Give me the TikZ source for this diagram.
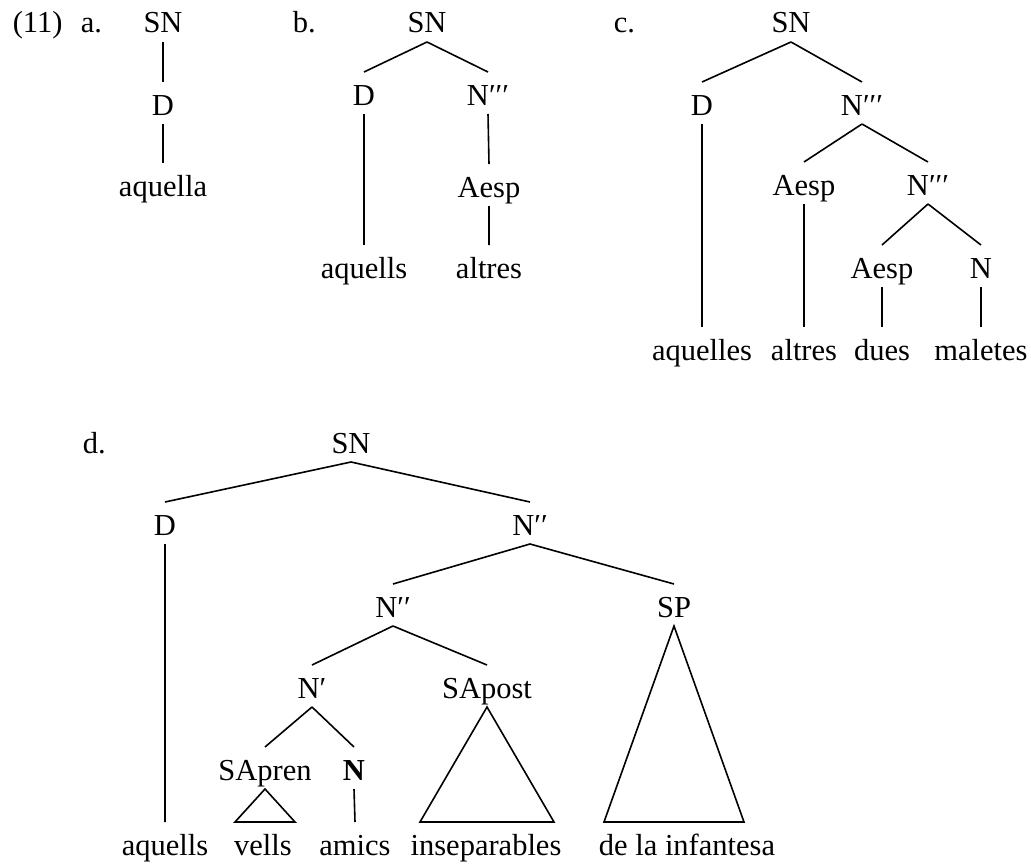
\documentclass[tikz,border=0pt]{standalone}
\usepackage{fontspec}
\setmainfont{Liberation Serif}
\usepackage{tikz}
\usetikzlibrary{calc}

\begin{document}
\begin{tikzpicture}[x=1pt, y=-1pt, line width=1.6pt, every node/.style={anchor=base, inner sep=0pt, outer ysep=9pt, text height=24pt, text depth=0pt, font=\fontsize{30.5}{36}\selectfont}]
\useasboundingbox (0,0) rectangle (1031,867);
% example numbers
\node[anchor=base west] (ex) at (12,33) {(11)};
\node[anchor=base west] (la) at (80,33) {a.};
\node[anchor=base west] (lb) at (292,33) {b.};
\node[anchor=base west] (lc) at (613,33) {c.};
\node[anchor=base west] (ld) at (82,453) {d.};

% a.
\node (sna) at (163,33) {SN};
\node (da) at (163,115) {D};
\node (aquella) at (163,196) {aquella};
\draw (sna.south) -- (da.north) (da.south) -- (aquella.north);

% b.
\node (snb) at (427,33) {SN};
\node (db) at (364,105) {D};
\node (nb) at (488,105) {N′′′};
\node (aespb) at (489,197) {Aesp};
\node (aquellsb) at (364,278) {aquells};
\node (altresb) at (489,278) {altres};
\draw (snb.south) -- (db.north) (snb.south) -- (nb.north);
\draw (db.south) -- (aquellsb.north);
\draw (nb.south) -- (aespb.north) (aespb.south) -- (altresb.north);

% c.
\node (snc) at (791,33) {SN};
\node (dc) at (702,115) {D};
\node (nc1) at (862,115) {N′′′};
\node (aespc1) at (804,195) {Aesp};
\node (nc2) at (928,195) {N′′′};
\node (aespc2) at (882,278) {Aesp};
\node (nc) at (981,278) {N};
\node (aquelles) at (702,360) {aquelles};
\node (altresc) at (804,360) {altres};
\node (dues) at (882,360) {dues};
\node (maletes) at (981,360) {maletes};
\draw (snc.south) -- (dc.north) (snc.south) -- (nc1.north);
\draw (nc1.south) -- (aespc1.north) (nc1.south) -- (nc2.north);
\draw (nc2.south) -- (aespc2.north) (nc2.south) -- (nc.north);
\draw (dc.south) -- (aquelles.north) (aespc1.south) -- (altresc.north);
\draw (aespc2.south) -- (dues.north) (nc.south) -- (maletes.north);

% d.
\node (snd) at (351,453) {SN};
\node (dd) at (165,535) {D};
\node (nd1) at (530,535) {N′′};
\node (nd2) at (393,617) {N′′};
\node (sp) at (674,617) {SP};
\node (nbar) at (312,698) {N′};
\node (sapost) at (487,698) {SApost};
\node (sapren) at (265,780) {SApren};
\node (nhead) at (354,780) {\textbf{N}};
\node (aquellsd) at (165,855) {aquells};
\node (vells) at (263,855) {vells};
\node (amics) at (355,855) {amics};
\node (insep) at (486,855) {inseparables};
\node (infantesa) at (687,855) {de la infantesa};
\draw (snd.south) -- (dd.north) (snd.south) -- (nd1.north);
\draw (nd1.south) -- (nd2.north) (nd1.south) -- (sp.north);
\draw (nd2.south) -- (nbar.north) (nd2.south) -- (sapost.north);
\draw (nbar.south) -- (sapren.north) (nbar.south) -- (nhead.north);
\draw (dd.south) -- (aquellsd.north) (nhead.south) -- (amics.north);
\draw (sapren.south) -- ($(sapren.south |- vells.north)+(-30,0)$) -- ($(sapren.south |- vells.north)+(30,0)$) -- cycle;
\draw (sapost.south) -- ($(sapost.south |- insep.north)+(-67,0)$) -- ($(sapost.south |- insep.north)+(67,0)$) -- cycle;
\draw (sp.south) -- ($(sp.south |- infantesa.north)+(-70,0)$) -- ($(sp.south |- infantesa.north)+(70,0)$) -- cycle;
\end{tikzpicture}
\end{document}
